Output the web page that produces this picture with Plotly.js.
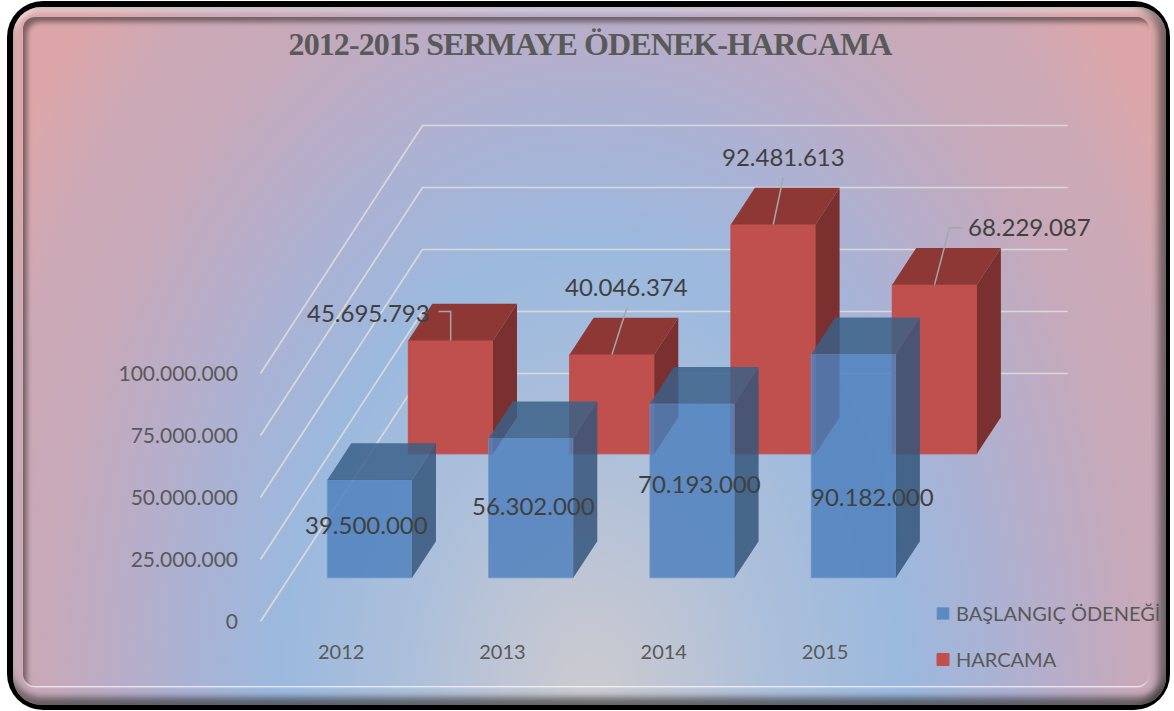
<!DOCTYPE html>
<html lang="tr">
<head>
<meta charset="utf-8">
<script src="https://cdn.plot.ly/plotly-3.0.1.min.js"></script>
<style>
html,body{margin:0;padding:0;background:#fff;width:1174px;height:711px;overflow:hidden}
#outer{position:absolute;left:7px;top:1px;width:1163px;height:709px;background:#000;border-radius:36px}
#bg{position:absolute;left:13px;top:7px;width:1153px;height:698px;border-radius:28px;
background:radial-gradient(ellipse 690px 1000px at 577px 693px,#cccbd0 0%,#c4c7d2 8%,#aec0da 25%,#9bb9de 45%,#aab2d4 58%,#b8adc8 68%,#c8a9b8 80%,#cda9b6 90%,#dca6a9 100%);
box-shadow:inset 0 -9px 6px -1px rgba(50,50,50,.6),inset -10px 0 7px -2px rgba(50,50,50,.55),inset 0 5px 4px rgba(255,255,255,.45),inset 4px 0 4px rgba(255,255,255,.15)}
#inner{position:absolute;left:23px;top:17px;width:1126px;height:669px;border-radius:12px;
box-shadow:inset 5px 6px 5px -1px rgba(70,60,60,.65),0 2px 2px -1px rgba(255,255,255,.95)}
#chart{position:absolute;left:0;top:0;width:1174px;height:711px}
#chart .legendtext{transform:translateX(-7px)}
#chart .gtitle{letter-spacing:-0.9px}
#chart .yaxislayer-above{transform:translateY(0.5px)}
</style>
</head>
<body>
<div id="outer"></div><div id="bg"></div><div id="inner"></div>
<div id="chart"></div>
<script>
// ---- data ----
const years = ['2012', '2013', '2014', '2015'];
const baslangic = [39500000, 56302000, 70193000, 90182000];
const harcama = [45695793, 40046374, 92481613, 68229087];
const axisTicks = [0, 25000000, 50000000, 75000000, 100000000];

// ---- projection of the oblique 3-D box ----
const W = 1174, H = 711;
const slotPx = 161.3, pxPerValue = 2.48e-6;     // category width and vertical scale
const originX = 260.5, originY = 621.5;         // front-left floor corner in pixels
const depthX = 162 / slotPx, depthY = 100000000; // how far the full floor depth shifts a point
const xRange = [-originX / slotPx, (W - originX) / slotPx];
const yRange = [-(H - originY) / pxPerValue, originY / pxPerValue];
const rowFront = 0.176, rowBack = 0.676, barDepth = 0.148, barW = 0.525;

const fmt = v => String(v).replace(/\B(?=(\d{3})+$)/g, '.');
const dx = px => px / slotPx;
const dy = px => -px / pxPerValue;   // pixels downward -> value units

function centers(d) { return years.map((_, i) => i + 0.5 + d * depthX); }
function bases(d) { return years.map(() => d * depthY); }

function faces(vals, d) {
  const side = { x: [], y: [] }, top = { x: [], y: [] };
  const sx = barDepth * depthX, sy = barDepth * depthY, b = d * depthY;
  centers(d).forEach((c, i) => {
    const l = c - barW / 2, r = c + barW / 2, t = b + vals[i];
    side.x.push(r, r + sx, r + sx, r, r, null);
    side.y.push(b, b + sy, t + sy, t, b, null);
    top.x.push(l, r, r + sx, l + sx, l, null);
    top.y.push(t, t, t + sy, t + sy, t, null);
  });
  return { side, top };
}

function poly(p, color, xa, ya) {
  return { type: 'scatter', mode: 'lines', x: p.x, y: p.y, xaxis: xa, yaxis: ya, fill: 'toself',
    fillcolor: color, line: { width: 0 }, showlegend: false, hoverinfo: 'skip' };
}

// gridlines: floor edge then back wall
const grid = { x: [], y: [] };
axisTicks.forEach(v => {
  grid.x.push(0, depthX, years.length + depthX, null);
  grid.y.push(v, v + depthY, v + depthY, null);
});

// label and leader placement in pixels relative to the top centre of each bar front
const redLabelShift = [[-82, -28], [14.5, -68], [10, -68], [95, -58]];
const blueLabelShift = [[-3.5, 45], [2.5, 67], [7.5, 80], [18.5, 142]];
const leaderBends = [[[0, -29], [-12, -29]], [[15, -47]], [[10, -47]], [[15, -57], [27, -57]]];

const redC = centers(rowBack), redB = bases(rowBack);
const blueC = centers(rowFront), blueB = bases(rowFront);
const leader = { x: [], y: [] };
leaderBends.forEach((pts, i) => {
  const x0 = redC[i], y0 = redB[i] + harcama[i];
  leader.x.push(x0); leader.y.push(y0);
  pts.forEach(p => { leader.x.push(x0 + dx(p[0])); leader.y.push(y0 + dy(p[1])); });
  leader.x.push(null); leader.y.push(null);
});

const redF = faces(harcama, rowBack), blueF = faces(baslangic, rowFront);

const traces = [
  { type: 'scatter', mode: 'lines', x: grid.x, y: grid.y, line: { color: '#d9d9d9', width: 1.7 },
    showlegend: false, hoverinfo: 'skip' },
  { type: 'bar', name: 'HARCAMA', x: redC, y: harcama, base: redB, width: barW, xaxis: 'x2', yaxis: 'y2',
    marker: { color: '#c0504d', line: { width: 1, color: '#c0504d' } }, legendrank: 2, legendgroup: 'h' },
  poly(redF.side, '#7a302e', 'x2', 'y2'),
  poly(redF.top, '#8e3835', 'x2', 'y2'),
  { type: 'scatter', mode: 'lines', x: leader.x, y: leader.y, xaxis: 'x2', yaxis: 'y2',
    line: { color: '#a6a6a6', width: 1.5 }, showlegend: false, hoverinfo: 'skip' },
  { type: 'bar', name: 'BAŞLANGIÇ ÖDENEĞİ', x: blueC, y: baslangic, base: blueB, width: barW, xaxis: 'x3', yaxis: 'y3',
    marker: { color: 'rgba(79,129,189,0.84)', line: { width: 1, color: 'rgba(110,150,200,0.7)' } }, legendrank: 1, legendgroup: 'b' },
  poly(blueF.side, 'rgba(51,85,123,0.84)', 'x3', 'y3'),
  poly(blueF.top, 'rgba(58,96,136,0.84)', 'x3', 'y3')
];

const labelFont = { family: 'Lato, sans-serif', size: 24, color: '#404040' };
const annotations = [];
years.forEach((_, i) => {
  annotations.push({ x: blueC[i], y: blueB[i] + baslangic[i], xref: 'x3', yref: 'y3', text: fmt(baslangic[i]),
    showarrow: false, xshift: blueLabelShift[i][0], yshift: -blueLabelShift[i][1], font: labelFont });
  annotations.push({ x: redC[i], y: redB[i] + harcama[i], xref: 'x2', yref: 'y2', text: fmt(harcama[i]),
    showarrow: false, xshift: redLabelShift[i][0], yshift: -redLabelShift[i][1], font: labelFont });
});

const hidden = { visible: false, fixedrange: true };
const layout = {
  width: W, height: H,
  margin: { l: 0, r: 0, t: 0, b: 0, pad: 0, autoexpand: false },
  paper_bgcolor: 'rgba(0,0,0,0)', plot_bgcolor: 'rgba(0,0,0,0)',
  barmode: 'overlay',
  title: { text: '2012-2015 SERMAYE ÖDENEK-HARCAMA', x: 590 / W, xanchor: 'center', y: 1 - 44 / H, yanchor: 'middle',
    font: { family: '"Liberation Serif", serif', size: 32, color: '#595959', weight: 700 } },
  xaxis: { range: xRange, tickvals: years.map((_, i) => i + 0.5), ticktext: years, anchor: 'free', position: (H - 638) / H,
    showgrid: false, zeroline: false, showline: false, ticks: '', fixedrange: true,
    tickfont: { family: 'Lato, sans-serif', size: 20, color: '#595959' } },
  yaxis: { range: yRange, tickvals: axisTicks, ticktext: axisTicks.map(fmt), anchor: 'free', position: 238 / W,
    showgrid: false, zeroline: false, showline: false, ticks: '', fixedrange: true,
    tickfont: { family: 'Lato, sans-serif', size: 21, color: '#595959' } },
  xaxis2: Object.assign({ range: xRange, overlaying: 'x', anchor: 'y2' }, hidden),
  yaxis2: Object.assign({ range: yRange, overlaying: 'y', anchor: 'x2' }, hidden),
  xaxis3: Object.assign({ range: xRange, overlaying: 'x', anchor: 'y3' }, hidden),
  yaxis3: Object.assign({ range: yRange, overlaying: 'y', anchor: 'x3' }, hidden),
  legend: { x: 923 / W, xanchor: 'left', y: 1 - 594 / H, yanchor: 'top', bgcolor: 'rgba(0,0,0,0)',
    tracegroupgap: 17, font: { family: 'Lato, sans-serif', size: 20, color: '#595959' } },
  annotations: annotations,
  showlegend: true
};

Plotly.newPlot('chart', traces, layout, { displayModeBar: false, responsive: false });
</script>
</body>
</html>
